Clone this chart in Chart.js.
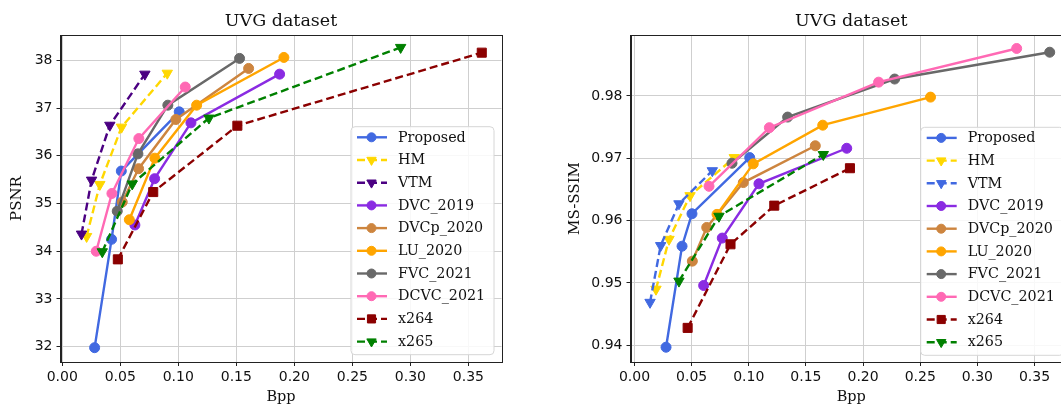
<!DOCTYPE html>
<html><head><meta charset="utf-8">
<script src="https://cdn.jsdelivr.net/npm/chart.js@4/dist/chart.umd.min.js"></script>
<style>
html,body{margin:0;padding:0;background:#fff;overflow:hidden;width:1061px;height:406px;position:relative;}
canvas{position:absolute;top:0;}
#c1{left:0;}
#c2{left:540px;}
</style></head><body>
<canvas id="c1" width="530" height="406" style="width:530px;height:406px"></canvas>
<canvas id="c2" width="560" height="406" style="width:560px;height:406px"></canvas>
<script>
// ---------- data ----------
const chartTitle = 'UVG dataset';
const seriesNames = ['Proposed','HM','VTM','DVC_2019','DVCp_2020','LU_2020','FVC_2021','DCVC_2021','x264','x265'];

// PSNR chart (bpp, PSNR)
const psnrProposedBpp = [0.0279, 0.0425, 0.0509, 0.1008];
const psnrProposed    = [31.98, 34.25, 35.68, 36.92];
const psnrHMBpp       = [0.0210, 0.0324, 0.0511, 0.0905];
const psnrHM          = [34.31, 35.40, 36.60, 37.73];
const psnrVTMBpp      = [0.0166, 0.0253, 0.0410, 0.0712];
const psnrVTM         = [34.36, 35.49, 36.64, 37.71];
const psnrDVCBpp      = [0.0626, 0.0796, 0.1109, 0.1873];
const psnrDVC         = [34.55, 35.52, 36.69, 37.71];
const psnrDVCpBpp     = [0.0517, 0.0658, 0.0979, 0.1606];
const psnrDVCp        = [35.03, 35.73, 36.76, 37.83];
const psnrLUBpp       = [0.0578, 0.0798, 0.1158, 0.1910];
const psnrLU          = [34.66, 35.95, 37.06, 38.06];
const psnrFVCBpp      = [0.0474, 0.0652, 0.0910, 0.1528];
const psnrFVC         = [34.84, 36.04, 37.06, 38.04];
const psnrDCVCBpp     = [0.0293, 0.0428, 0.0660, 0.1060];
const psnrDCVC        = [34.00, 35.21, 36.36, 37.44];
const psnrX264Bpp     = [0.0479, 0.0784, 0.1509, 0.3615];
const psnrX264        = [33.83, 35.24, 36.63, 38.16];
const psnrX265Bpp     = [0.0345, 0.0603, 0.1264, 0.2916];
const psnrX265        = [33.99, 35.41, 36.79, 38.27];

// MS-SSIM chart (bpp, MS-SSIM)
const ssimProposedBpp = [0.0276, 0.0416, 0.0503, 0.1008];
const ssimProposed    = [0.9397, 0.9559, 0.9611, 0.9701];
const ssimHMBpp       = [0.0188, 0.0302, 0.0486, 0.0873];
const ssimHM          = [0.9490, 0.9570, 0.9640, 0.9701];
const ssimVTMBpp      = [0.0136, 0.0229, 0.0389, 0.0681];
const ssimVTM         = [0.9469, 0.9560, 0.9627, 0.9680];
const ssimDVCBpp      = [0.0605, 0.0768, 0.1089, 0.1857];
const ssimDVC         = [0.9496, 0.9572, 0.9659, 0.9716];
const ssimDVCpBpp     = [0.0506, 0.0632, 0.0952, 0.1582];
const ssimDVCp        = [0.9535, 0.9589, 0.9661, 0.9720];
const ssimLUBpp       = [0.0722, 0.1039, 0.1647, 0.2590];
const ssimLU          = [0.9610, 0.9691, 0.9753, 0.9798];
const ssimFVCBpp      = [0.0853, 0.1340, 0.2276, 0.3633];
const ssimFVC         = [0.9692, 0.9766, 0.9827, 0.9870];
const ssimDCVCBpp     = [0.0652, 0.1180, 0.2136, 0.3344];
const ssimDCVC        = [0.9655, 0.9749, 0.9822, 0.9876];
const ssimX264Bpp     = [0.0465, 0.0840, 0.1223, 0.1885];
const ssimX264        = [0.9428, 0.9562, 0.9624, 0.9684];
const ssimX265Bpp     = [0.0389, 0.0739, 0.1652];
const ssimX265        = [0.9503, 0.9607, 0.9706];

// ticks
const bppTicks      = [0, 0.05, 0.10, 0.15, 0.20, 0.25, 0.30, 0.35];
const bppTickLabels = ['0.00','0.05','0.10','0.15','0.20','0.25','0.30','0.35'];
const psnrTicks      = [32, 33, 34, 35, 36, 37, 38];
const psnrTickLabels = ['32','33','34','35','36','37','38'];
const ssimTicks      = [0.94, 0.95, 0.96, 0.97, 0.98];
const ssimTickLabels = ['0.94','0.95','0.96','0.97','0.98'];

// ---------- styles ----------
const colorsPSNR = ['#4169E1','#FFD700','#4B0082','#8A2BE2','#CD853F','#FFA500','#696969','#FF69B4','#8B0000','#008000'];
const colorsSSIM = ['#4169E1','#FFD700','#4169E1','#8A2BE2','#CD853F','#FFA500','#696969','#FF69B4','#8B0000','#008000'];
const dashed  = [false,true,true,false,false,false,false,false,true,true];
const markers = ['circle','tv','tv','circle','circle','circle','circle','circle','rect','tv'];

const SERIF = '"DejaVu Serif", "Liberation Serif", serif';
const SANS = '"DejaVu Sans", sans-serif';
const LW = 2.4;
const DASH = [8, 4];

function markerOpts(m) {
  if (m === 'tv') return {pointStyle:'triangle', rotation:180, radius:6};
  if (m === 'rect') return {pointStyle:'rect', rotation:0, radius:6.4};
  return {pointStyle:'circle', rotation:0, radius:5};
}

function buildDatasets(bpps, vals, colors) {
  return seriesNames.map((name, i) => {
    const mk = markerOpts(markers[i]);
    return {
      label: name,
      data: bpps[i].map((x, j) => ({x: x, y: vals[i][j]})),
      showLine: true,
      borderColor: colors[i],
      backgroundColor: colors[i],
      borderWidth: LW,
      borderDash: dashed[i] ? DASH : [],
      pointStyle: mk.pointStyle,
      rotation: mk.rotation,
      pointRotation: mk.rotation,
      pointRadius: mk.radius,
      pointBorderWidth: 1,
      pointBorderColor: colors[i],
      pointBackgroundColor: colors[i],
      tension: 0,
      order: -i
    };
  });
}

function decorPlugin(legendBox, colors) {
  return {
    id: 'decor',
    afterDraw(chart) {
      const ctx = chart.ctx;
      const a = chart.chartArea;
      ctx.save();
      // spines
      ctx.strokeStyle = '#222';
      ctx.lineWidth = 1;
      ctx.setLineDash([]);
      ctx.strokeRect(Math.round(a.left) + 0.5, Math.round(a.top) + 0.5, Math.round(a.right - a.left), Math.round(a.bottom - a.top));
      // title
      ctx.fillStyle = '#111';
      ctx.font = '17.5px ' + SERIF;
      ctx.textAlign = 'center';
      ctx.textBaseline = 'alphabetic';
      ctx.fillText(chartTitle, (a.left + a.right) / 2, 26);
      // legend box
      const bx = legendBox.left, by = legendBox.top, bw = 143, bh = 228, r = 4;
      ctx.beginPath();
      ctx.moveTo(bx + r, by);
      ctx.lineTo(bx + bw - r, by); ctx.arcTo(bx + bw, by, bx + bw, by + r, r);
      ctx.lineTo(bx + bw, by + bh - r); ctx.arcTo(bx + bw, by + bh, bx + bw - r, by + bh, r);
      ctx.lineTo(bx + r, by + bh); ctx.arcTo(bx, by + bh, bx, by + bh - r, r);
      ctx.lineTo(bx, by + r); ctx.arcTo(bx, by, bx + r, by, r);
      ctx.closePath();
      ctx.fillStyle = 'rgba(255,255,255,0.85)';
      ctx.fill();
      ctx.strokeStyle = '#d6d6d6';
      ctx.lineWidth = 1;
      ctx.stroke();
      seriesNames.forEach((name, i) => {
        const y = by + 10.6 + i * 22.7;
        ctx.strokeStyle = colors[i];
        ctx.fillStyle = colors[i];
        ctx.lineWidth = LW;
        ctx.setLineDash(dashed[i] ? DASH : []);
        ctx.beginPath();
        ctx.moveTo(bx + 6, y);
        ctx.lineTo(bx + 36, y);
        ctx.stroke();
        ctx.setLineDash([]);
        const mk = markerOpts(markers[i]);
        ctx.lineWidth = 1;
        Chart.helpers.drawPoint(ctx, {pointStyle: mk.pointStyle, rotation: mk.rotation, radius: mk.radius * 0.9, borderWidth: 1}, bx + 20.5, y);
        ctx.fillStyle = '#111';
        ctx.font = '14.3px ' + SERIF;
        ctx.textAlign = 'left';
        ctx.textBaseline = 'middle';
        ctx.fillText(name, bx + 47, y + 0.5);
      });
      ctx.restore();
    }
  };
}

function makeChart(id, datasets, cfg) {
  return new Chart(document.getElementById(id), {
    type: 'scatter',
    data: {datasets: datasets},
    options: {
      responsive: false,
      animation: false,
      events: [],
      layout: {padding: {left: 0, top: 35, right: cfg.padRight, bottom: 0}},
      plugins: {legend: {display: false}, tooltip: {enabled: false}, title: {display: false}},
      scales: {
        x: {
          type: 'linear', min: cfg.xMin, max: cfg.xMax,
          afterFit: s => { s.height = 44; },
          afterBuildTicks: s => { s.ticks = bppTicks.map(v => ({value: v})); },
          ticks: {callback: (v, i) => bppTickLabels[i], font: {family: SANS, size: 14}, color: '#111', padding: 3, maxRotation: 0, autoSkip: false},
          grid: {color: '#cfcfcf', lineWidth: 1, tickColor: '#222', tickLength: 4},
          border: {color: '#222', width: 1},
          title: {display: true, text: 'Bpp', font: {family: SERIF, size: 14.5}, color: '#111', padding: {top: 0, bottom: 0}}
        },
        y: {
          type: 'linear', min: cfg.yMin, max: cfg.yMax,
          afterFit: s => { s.width = cfg.yWidth; },
          afterBuildTicks: s => { s.ticks = cfg.yTicks.map(v => ({value: v})); },
          ticks: {callback: (v, i) => cfg.yTickLabels[i], font: {family: SANS, size: 14}, color: '#111', padding: 4, autoSkip: false},
          grid: {color: '#cfcfcf', lineWidth: 1, tickColor: '#222', tickLength: 4},
          border: {color: '#222', width: 1},
          title: {display: true, text: cfg.yTitle, font: {family: SERIF, size: 15}, color: '#111', padding: {top: cfg.yTitlePad, bottom: 0}}
        }
      }
    },
    plugins: [decorPlugin(cfg.legendBox, cfg.colors)]
  });
}

const psnrBpps = [psnrProposedBpp, psnrHMBpp, psnrVTMBpp, psnrDVCBpp, psnrDVCpBpp, psnrLUBpp, psnrFVCBpp, psnrDCVCBpp, psnrX264Bpp, psnrX265Bpp];
const psnrVals = [psnrProposed, psnrHM, psnrVTM, psnrDVC, psnrDVCp, psnrLU, psnrFVC, psnrDCVC, psnrX264, psnrX265];
const ssimBpps = [ssimProposedBpp, ssimHMBpp, ssimVTMBpp, ssimDVCBpp, ssimDVCpBpp, ssimLUBpp, ssimFVCBpp, ssimDCVCBpp, ssimX264Bpp, ssimX265Bpp];
const ssimVals = [ssimProposed, ssimHM, ssimVTM, ssimDVC, ssimDVCp, ssimLU, ssimFVC, ssimDCVC, ssimX264, ssimX265];

makeChart('c1', buildDatasets(psnrBpps, psnrVals, colorsPSNR), {
  padRight: 28.5, yWidth: 60.5, xMin: -0.0015, xMax: 0.3785, yMin: 31.68, yMax: 38.53,
  yTicks: psnrTicks, yTickLabels: psnrTickLabels, yTitle: 'PSNR', yTitlePad: 8,
  legendBox: {left: 351, top: 126.7}, colors: colorsPSNR
});
makeChart('c2', buildDatasets(ssimBpps, ssimVals, colorsSSIM), {
  padRight: 28, yWidth: 90.5, xMin: -0.0035, xMax: 0.3828, yMin: 0.93733, yMax: 0.98976,
  yTicks: ssimTicks, yTickLabels: ssimTickLabels, yTitle: 'MS-SSIM', yTitlePad: 26,
  legendBox: {left: 380.7, top: 127.3}, colors: colorsSSIM
});
</script>
</body></html>
